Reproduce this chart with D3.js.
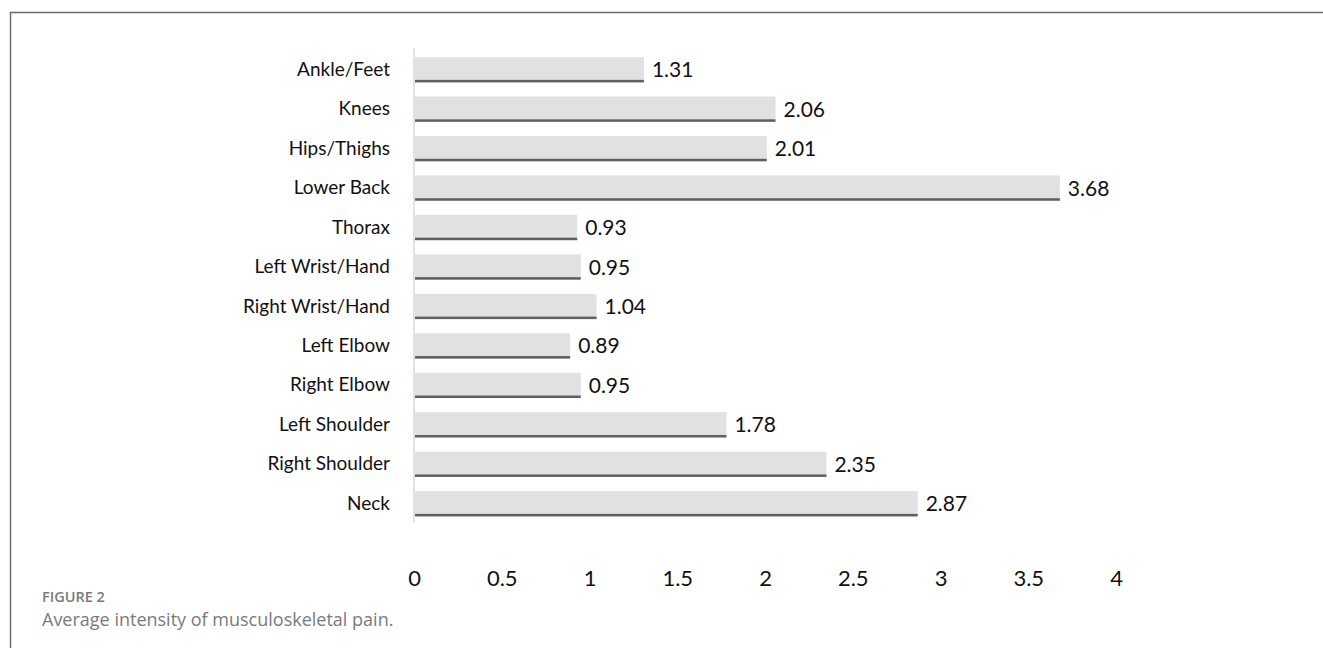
<!DOCTYPE html>
<html>
<head>
<meta charset="utf-8">
<script src="https://cdn.jsdelivr.net/npm/d3@7"></script>
<style>
  body { margin: 0; background: #fff; }
  svg { display: block; }
</style>
</head>
<body>
<svg id="chart"></svg>
<script>
// body regions, top to bottom as drawn
var regions = ["Ankle/Feet", "Knees", "Hips/Thighs", "Lower Back", "Thorax",
  "Left Wrist/Hand", "Right Wrist/Hand", "Left Elbow", "Right Elbow",
  "Left Shoulder", "Right Shoulder", "Neck"];
var intensity = [1.31, 2.06, 2.01, 3.68, 0.93, 0.95, 1.04, 0.89, 0.95, 1.78, 2.35, 2.87];
var tickValues = [0, 0.5, 1, 1.5, 2, 2.5, 3, 3.5, 4];

var width = 1323, height = 648;
var svg = d3.select("#chart").attr("width", width).attr("height", height);

// figure frame (top + left only)
svg.append("path")
  .attr("d", "M10.5," + height + " V12.5 H" + width)
  .attr("fill", "none")
  .attr("stroke", "#6b6b6b")
  .attr("stroke-width", 1.5);

var x = d3.scaleLinear().domain([0, 4]).range([414, 1116]);
var y = d3.scaleBand().domain(regions).range([50, 523.5])
  .paddingInner(0.36).paddingOuter(0.18);

var font = "Lato, 'Open Sans', sans-serif";

// bars: light fill + darker bottom edge
var bars = svg.append("g").selectAll("g")
  .data(regions)
  .join("g");

bars.append("rect")
  .attr("x", x(0) + 1)
  .attr("y", function (d) { return y(d); })
  .attr("width", function (d, i) { return x(intensity[i]) - x(0) - 1; })
  .attr("height", y.bandwidth())
  .attr("fill", "#e1e1e1");

bars.append("rect")
  .attr("x", x(0) + 1)
  .attr("y", function (d) { return y(d) + y.bandwidth() - 2.5; })
  .attr("width", function (d, i) { return x(intensity[i]) - x(0) - 1; })
  .attr("height", 2.5)
  .attr("fill", "#5f5f5f");

// vertical axis line
svg.append("line")
  .attr("x1", x(0)).attr("x2", x(0))
  .attr("y1", 48).attr("y2", 522)
  .attr("stroke", "#d9d9d9")
  .attr("stroke-width", 1.5);

// value labels
bars.append("text")
  .attr("x", function (d, i) { return x(intensity[i]) + 8; })
  .attr("y", function (d) { return y(d) + y.bandwidth() / 2; })
  .attr("dy", "0.36em")
  .attr("font-family", font)
  .attr("font-size", 21)
  .attr("fill", "#111")
  .text(function (d, i) { return intensity[i].toFixed(2); });

// category axis
var yAxis = svg.append("g")
  .attr("transform", "translate(" + x(0) + ",0)")
  .call(d3.axisLeft(y).tickSize(0).tickPadding(24));
yAxis.select(".domain").remove();
yAxis.selectAll("text")
  .attr("font-family", font)
  .attr("font-size", 19)
  .attr("fill", "#111");

// value axis
var xAxis = svg.append("g")
  .attr("transform", "translate(0,570)")
  .call(d3.axisBottom(x).tickValues(tickValues).tickSize(0).tickPadding(0)
    .tickFormat(function (d) { return String(d); }));
xAxis.select(".domain").remove();
xAxis.selectAll("text")
  .attr("font-family", font)
  .attr("font-size", 22)
  .attr("fill", "#111");

// caption
svg.append("text")
  .attr("x", 42).attr("y", 602)
  .attr("font-family", "'Open Sans', sans-serif")
  .attr("font-size", 14.5)
  .attr("font-weight", 600)
  .attr("fill", "#7a7a7a")
  .text("FIGURE 2");

svg.append("text")
  .attr("x", 42).attr("y", 626)
  .attr("font-family", "'Open Sans', sans-serif")
  .attr("font-size", 18)
  .attr("fill", "#7a7a7a")
  .text("Average intensity of musculoskeletal pain.");
</script>
</body>
</html>
